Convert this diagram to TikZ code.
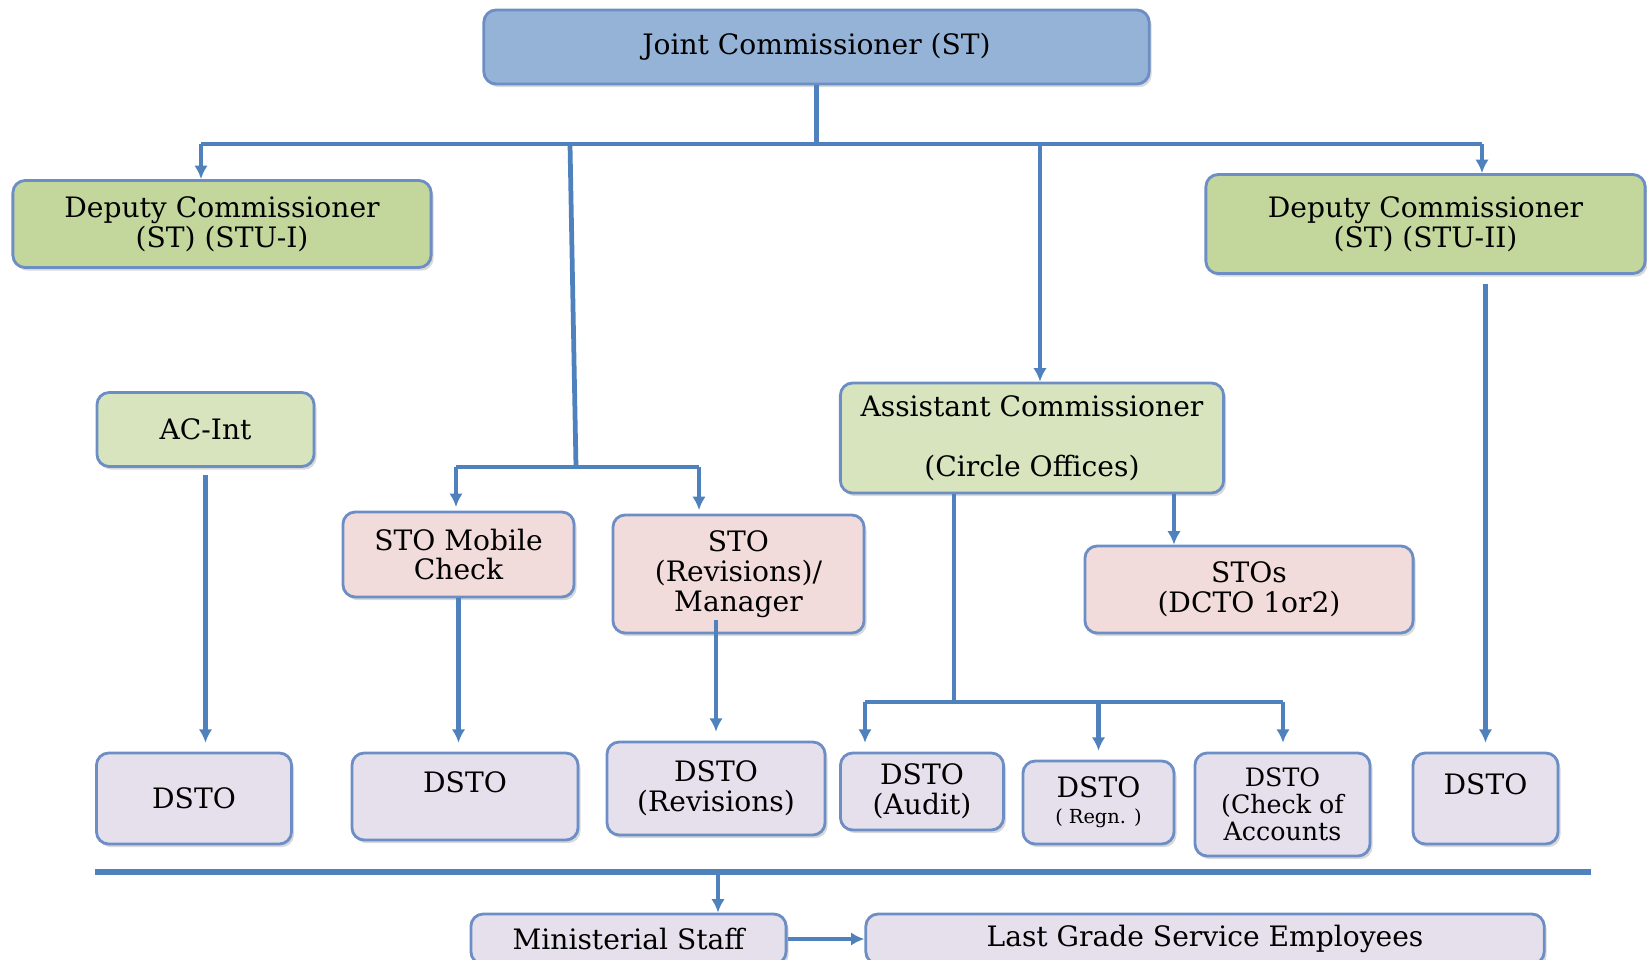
\documentclass[tikz,border=0pt]{standalone}
\usepackage{fontspec}
\setmainfont{DejaVu Serif}
\usetikzlibrary{arrows.meta,shadows}
\definecolor{linkblue}{RGB}{79,129,189}
\definecolor{edgeblue}{RGB}{108,142,196}
\definecolor{jcfill}{RGB}{149,179,215}
\definecolor{dcfill}{RGB}{195,214,155}
\definecolor{acfill}{RGB}{215,228,189}
\definecolor{stofill}{RGB}{242,220,219}
\definecolor{dstofill}{RGB}{229,224,236}

\begin{document}
\begin{tikzpicture}[x=0.01cm,y=-0.01cm,>={Latex[length=3.8pt,width=3.8pt]},
  box/.style={draw=edgeblue,line width=0.8pt,rounded corners=3.5pt,align=center,
    inner sep=1pt,font=\fontsize{8}{8.5}\selectfont,
    drop shadow={shadow xshift=0.7pt,shadow yshift=-0.9pt,opacity=0.3}},
  link/.style={draw=linkblue,line width=1.35pt},
  drop/.style={link,->,shorten >=2.5pt}]
\useasboundingbox (0,0) rectangle (1647,960);
\clip (0,0) rectangle (1647,960);

\node[box,fill=jcfill,minimum width=6.65cm,minimum height=0.74cm] (jc) at (816.5,47) {Joint Commissioner (ST)};
\node[box,fill=dcfill,minimum width=4.18cm,minimum height=0.87cm] (dcone) at (222,224) {Deputy Commissioner\\(ST) (STU-I)};
\node[box,fill=dcfill,minimum width=4.39cm,minimum height=0.99cm] (dctwo) at (1425.5,224) {Deputy Commissioner\\(ST) (STU-II)};
\node[box,fill=acfill,minimum width=2.17cm,minimum height=0.74cm] (acint) at (205.5,429.5) {AC-Int};
\node[box,fill=stofill,minimum width=2.31cm,minimum height=0.85cm] (stomob) at (458.5,554.5) {STO Mobile\\Check};
\node[box,fill=stofill,minimum width=2.51cm,minimum height=1.18cm] (storev) at (738.5,574) {STO\\(Revisions)/\\Manager};
\node[box,fill=acfill,minimum width=3.83cm,minimum height=1.10cm] (ac) at (1032,438) {Assistant Commissioner\\~\\(Circle Offices)};
\node[box,fill=stofill,minimum width=3.28cm,minimum height=0.87cm] (stos) at (1249,589.5) {STOs\\(DCTO 1or2)};

\node[box,fill=dstofill,minimum width=1.95cm,minimum height=0.91cm] (dsa) at (194,798.5) {DSTO};
\node[box,fill=dstofill,minimum width=2.26cm,minimum height=0.87cm] (dsb) at (465,796.5) {DSTO\\~};
\node[box,fill=dstofill,minimum width=2.18cm,minimum height=0.93cm] (dsc) at (716,788.5) {DSTO\\(Revisions)};
\node[box,fill=dstofill,minimum width=1.63cm,minimum height=0.77cm] (dsd) at (922,791.5) {DSTO\\(Audit)};
\node[box,fill=dstofill,minimum width=1.51cm,minimum height=0.83cm] (dse) at (1098.5,802.5) {DSTO\\[-1pt]{\fontsize{5.5}{6}\selectfont( Regn. )}};
\node[box,fill=dstofill,minimum width=1.75cm,minimum height=1.03cm,font=\fontsize{7.2}{7.7}\selectfont] (dsf) at (1282.5,804.5) {DSTO\\(Check of\\Accounts};
\node[box,fill=dstofill,minimum width=1.45cm,minimum height=0.91cm] (dsg) at (1485.5,798.5) {DSTO\\~};

\node[box,fill=dstofill,minimum width=3.15cm,minimum height=0.50cm] (ms) at (628.5,939) {Ministerial Staff};
\node[box,fill=dstofill,minimum width=6.78cm,minimum height=0.50cm] (lg) at (1205,939) {Last Grade Service Employees};

\coordinate (hub) at (816.5,144);
\coordinate (busl) at (201,144);
\coordinate (busr) at (1482,144);
\coordinate (midl) at (570,144);
\coordinate (midr) at (1040,144);
\coordinate (fork) at (576,467);
\coordinate (forkl) at (456,467);
\coordinate (forkr) at (699,467);
\coordinate (acj) at (954,702);
\coordinate (acl) at (865,702);
\coordinate (acr) at (1283,702);
\coordinate (stotop) at (1174,0);
\coordinate (sepl) at (95,872);
\coordinate (sepr) at (1591,872);
\coordinate (sepdrop) at (718,872);

\draw[link] (jc.south) -- (hub);
\draw[link] (busl) -- (busr);
\draw[link,->] (busl) -- (busl |- dcone.north);
\draw[link,->] (busr) -- (busr |- dctwo.north);
\draw[link] (midl) -- (fork);
\draw[link] (forkl) -- (forkr);
\draw[link,->,shorten >=1pt] (forkl) -- (forkl |- stomob.north);
\draw[link,->,shorten >=1pt] (forkr) -- (forkr |- storev.north);
\draw[link,->] (midr) -- (midr |- ac.north);
\draw[link,->] (ac.south -| stotop) -- (stos.north -| stotop);
\draw[link] (ac.south -| acj) -- (acj);
\draw[link] (acl) -- (acr);
\draw[drop] (acl) -- (acl |- dsd.north);
\draw[drop] (dse.north |- acj) -- (dse.north);
\draw[drop] (acr) -- (acr |- dsf.north);
\draw[drop,shorten <=2pt] (acint.south) -- (acint.south |- dsa.north);
\draw[drop] (stomob.south) -- (stomob.south |- dsb.north);
\draw[drop] ([yshift=4pt]storev.south -| dsc.north) -- (dsc.north);
\draw[drop,shorten <=2.5pt] (dctwo.south -| dsg.north) -- (dsg.north);
\draw[link,line width=1.9pt] (sepl) -- (sepr);
\draw[link,->] (sepdrop) -- (sepdrop |- ms.north);
\draw[link,->] (ms.east) -- (lg.west);
\end{tikzpicture}
\end{document}
